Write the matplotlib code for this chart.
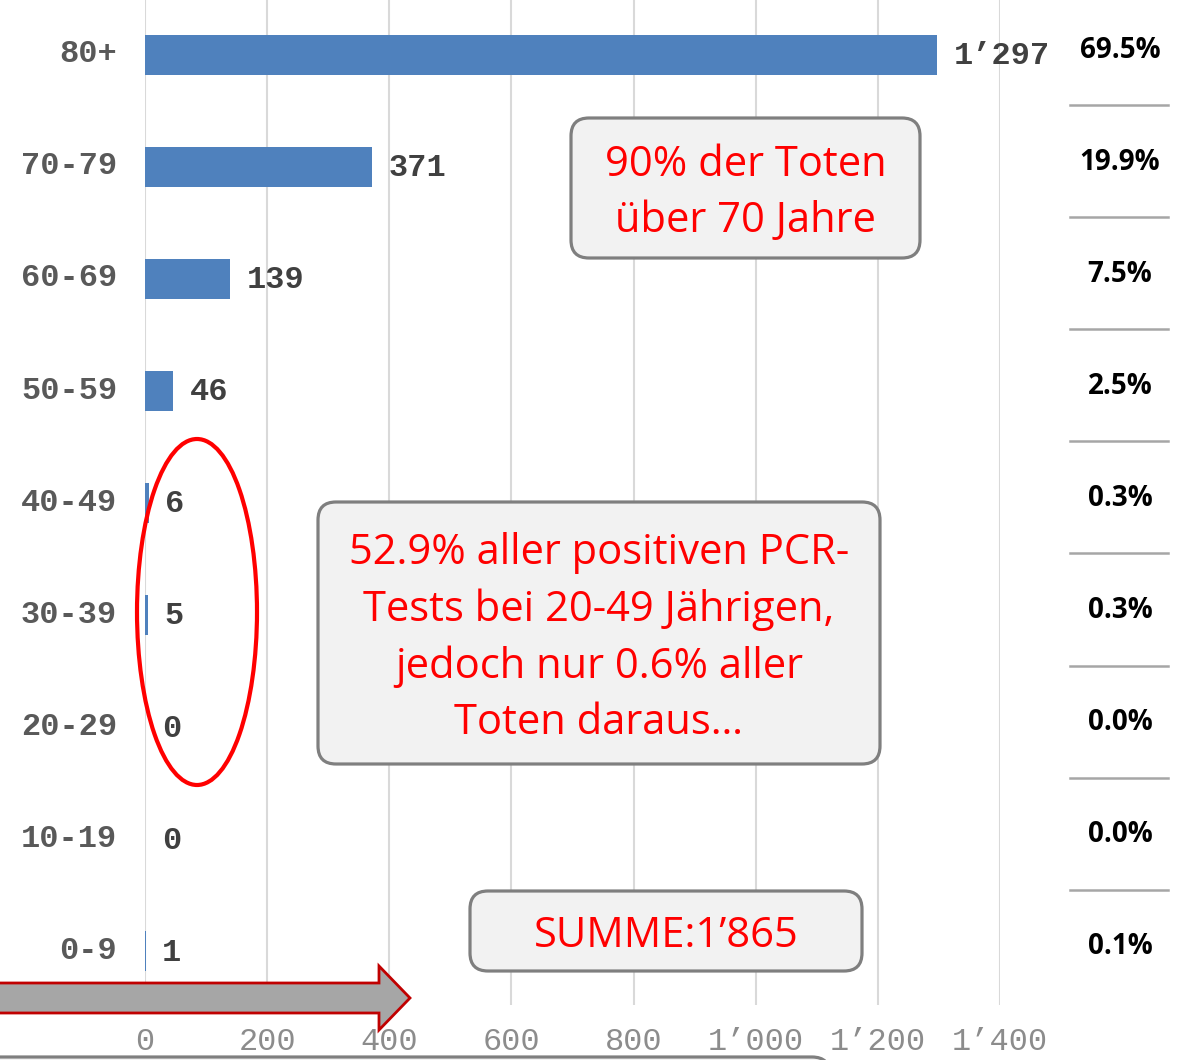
import matplotlib
matplotlib.use("Agg")
import matplotlib.pyplot as plt
from matplotlib.patches import FancyBboxPatch, Ellipse, Polygon
from matplotlib.transforms import blended_transform_factory, ScaledTranslation
from matplotlib.ticker import FuncFormatter

# ---- data ----
categories = ["0-9", "10-19", "20-29", "30-39", "40-49", "50-59", "60-69", "70-79", "80+"]
deaths = [1, 0, 0, 5, 6, 46, 139, 371, 1297]
pct_labels = ["0.1%", "0.0%", "0.0%", "0.3%", "0.3%", "2.5%", "7.5%", "19.9%", "69.5%"]
x_ticks = [0, 200, 400, 600, 800, 1000, 1200, 1400]

box1_text = "90% der Toten\nüber 70 Jahre"
box2_text = "52.9% aller positiven PCR-\nTests bei 20-49 Jährigen,\njedoch nur 0.6% aller\nToten daraus…"
box3_text = "SUMME:1’865"


def swiss(v):
    return f"{int(v):,}".replace(",", "’")


W, H = 1191, 1060
fig = plt.figure(figsize=(W / 100, H / 100), dpi=100)
ax = fig.add_axes([145 / W, 1 - 1005 / H, (1000 - 145) / W, 1005 / H])

ypos = list(range(len(categories)))
ax.barh(ypos, deaths, height=0.36, color="#4f81bd", linewidth=0, zorder=3)
ax.set_xlim(0, 1400)
ax.set_ylim(-0.48, 8.49)
ax.set_xticks(x_ticks)
ax.xaxis.set_major_formatter(FuncFormatter(lambda v, p: swiss(v)))
ax.set_yticks(ypos)
ax.set_yticklabels(categories)
ax.grid(axis="x", color="#d9d9d9", linewidth=1.5, zorder=0)
ax.set_axisbelow(True)
for s in ax.spines.values():
    s.set_visible(False)
ax.tick_params(axis="both", length=0)
ax.tick_params(axis="y", pad=20)
ax.tick_params(axis="x", pad=16)
up = ScaledTranslation(0, 4 / 100, fig.dpi_scale_trans)
for lab in ax.get_yticklabels():
    lab.set_fontfamily("Liberation Mono")
    lab.set_fontsize(23)
    lab.set_fontweight("bold")
    lab.set_color("#595959")
    lab.set_transform(lab.get_transform() + up)
for lab in ax.get_xticklabels():
    lab.set_fontfamily("Liberation Mono")
    lab.set_fontsize(23)
    lab.set_color("#8c8c8c")

# value labels
for y, v in zip(ypos, deaths):
    ax.annotate(swiss(v), xy=(v, y), xytext=(12, -1), textcoords="offset points",
                va="center", ha="left", fontfamily="Liberation Mono", fontsize=23,
                fontweight="bold", color="#404040", zorder=5)

# percent column
tr = blended_transform_factory(fig.transFigure, ax.transData)
for y, p in zip(ypos, pct_labels):
    fig.text(1120 / W, y + 0.04, p, transform=tr, ha="center", va="center",
             fontfamily="Open Sans", fontweight="bold", fontsize=20, color="black")
for y in ypos[:-1]:
    ax.plot([1070 / W, 1168 / W], [y + 0.55, y + 0.55], transform=tr, color="#a6a6a6",
            linewidth=1.8, clip_on=False, zorder=2)

# overlay in pixel coordinates
ov = fig.add_axes([0, 0, 1, 1], zorder=10)
ov.set_xlim(0, W)
ov.set_ylim(H, 0)
ov.axis("off")
ov.patch.set_visible(False)


def rbox(x0, y0, x1, y1, text, fs=30):
    b = FancyBboxPatch((x0, y0), x1 - x0, y1 - y0, boxstyle="round,pad=0,rounding_size=18",
                       facecolor="#f2f2f2", edgecolor="#7f7f7f", linewidth=2.3)
    ov.add_patch(b)
    if text:
        ov.text((x0 + x1) / 2, (y0 + y1) / 2 + 5, text, ha="center", va="center",
                fontfamily="Open Sans", fontsize=fs, color="#ff0000", linespacing=1.44)


rbox(571, 118, 920, 258, box1_text)
rbox(318, 502, 880, 764, box2_text)
rbox(470, 891, 862, 971, box3_text)
rbox(-30, 1057, 830, 1120, None)

ov.add_patch(Ellipse((197, 612), 120, 346, fill=False, edgecolor="#ff0000", linewidth=3))

arrow = Polygon([(-10, 983), (379, 983), (379, 966), (410, 998), (379, 1030), (379, 1013), (-10, 1013)],
                closed=True, facecolor="#a6a6a6", edgecolor="#c00000", linewidth=2)
ov.add_patch(arrow)

fig.savefig("out.png", dpi=100)
